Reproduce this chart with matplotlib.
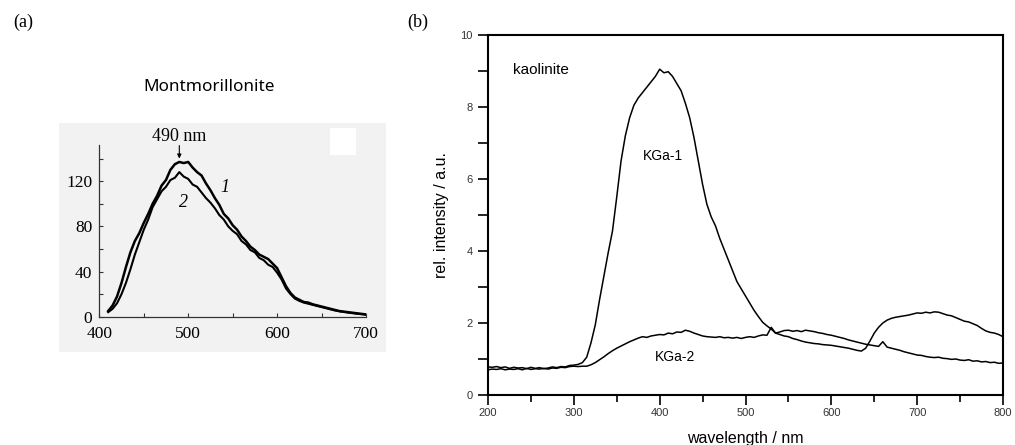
import numpy as np
import matplotlib
matplotlib.use("Agg")
import matplotlib.pyplot as plt
from matplotlib.patches import Rectangle

# ---------------- data: panel (a) Montmorillonite ----------------
wl_a = [410, 415, 420, 425, 430, 435, 440, 445, 450, 455, 460, 465, 470, 475,
        480, 485, 490, 495, 500, 505, 510, 515, 520, 525, 530, 535, 540, 545,
        550, 555, 560, 565, 570, 575, 580, 585, 590, 595, 600, 605, 610, 615,
        620, 625, 630, 635, 640, 645, 650, 655, 660, 665, 670, 675, 680, 685,
        690, 695, 700]
curve1 = [5, 10, 18, 30, 44, 57, 67, 74, 83, 91, 100, 107, 116, 121,
          130, 135, 137, 136, 137, 132, 128, 125, 118, 112, 105, 99, 91, 87,
          81, 77, 71, 67, 62, 59, 55, 53, 51, 47, 43, 35, 27, 21,
          17, 15, 13, 12.5, 11, 10, 9, 8, 7, 6, 5, 4.5, 4, 3.5,
          3, 2.5, 2]
curve2 = [4, 7, 12, 20, 30, 42, 55, 66, 77, 86, 97, 104, 111, 115,
          121, 123, 128, 124, 122, 117, 115, 110, 105, 101, 96, 90, 86, 80,
          76, 73, 67, 64, 59, 57, 52, 50, 46, 44, 39, 33, 25, 20,
          16, 14, 12.5, 11.5, 10.5, 9.5, 8.5, 7.5, 6.5, 5.5, 4.8, 4.2, 3.6, 3.1,
          2.6, 2.2, 1.8]
xticks_a = [400, 500, 600, 700]
yticks_a = [0, 40, 80, 120]

# ---------------- data: panel (b) kaolinite ----------------
wl_b = list(range(200, 801, 5))
kga1 = [0.78, 0.77, 0.79, 0.76, 0.78, 0.74, 0.77, 0.75, 0.76, 0.73,
        0.77, 0.74, 0.76, 0.73, 0.75, 0.78, 0.76, 0.79, 0.78, 0.82,
        0.83, 0.85, 0.90, 1.05, 1.45, 1.95, 2.65, 3.30, 3.95, 4.55,
        5.50, 6.50, 7.20, 7.70, 8.05, 8.25, 8.40, 8.55, 8.70, 8.85,
        9.05, 8.95, 8.98, 8.85, 8.65, 8.45, 8.10, 7.70, 7.15, 6.50,
        5.85, 5.30, 4.95, 4.70, 4.35, 4.05, 3.75, 3.45, 3.15, 2.95,
        2.75, 2.55, 2.35, 2.18, 2.02, 1.92, 1.83, 1.72, 1.68, 1.64,
        1.62, 1.57, 1.54, 1.50, 1.47, 1.45, 1.43, 1.42, 1.40, 1.39,
        1.38, 1.36, 1.34, 1.32, 1.30, 1.27, 1.24, 1.22, 1.30, 1.50,
        1.72, 1.88, 2.00, 2.08, 2.13, 2.16, 2.18, 2.20, 2.22, 2.25,
        2.28, 2.27, 2.30, 2.28, 2.31, 2.30, 2.26, 2.22, 2.20, 2.15,
        2.10, 2.05, 2.03, 1.98, 1.93, 1.85, 1.78, 1.74, 1.72, 1.68,
        1.62]
kga2 = [0.70, 0.72, 0.71, 0.73, 0.70, 0.72, 0.71, 0.73, 0.70, 0.74,
        0.71, 0.73, 0.72, 0.74, 0.72, 0.75, 0.74, 0.77, 0.76, 0.79,
        0.80, 0.79, 0.80, 0.80, 0.84, 0.90, 0.98, 1.06, 1.15, 1.23,
        1.30, 1.36, 1.42, 1.48, 1.53, 1.58, 1.62, 1.60, 1.64, 1.66,
        1.68, 1.67, 1.72, 1.70, 1.75, 1.74, 1.80, 1.77, 1.72, 1.68,
        1.64, 1.62, 1.61, 1.60, 1.62, 1.59, 1.60, 1.58, 1.60, 1.57,
        1.60, 1.62, 1.60, 1.64, 1.67, 1.66, 1.88, 1.72, 1.75, 1.79,
        1.80, 1.77, 1.79, 1.76, 1.80, 1.78, 1.76, 1.73, 1.71, 1.68,
        1.66, 1.63, 1.60, 1.57, 1.53, 1.50, 1.47, 1.44, 1.41, 1.39,
        1.37, 1.35, 1.48, 1.33, 1.30, 1.27, 1.24, 1.20, 1.17, 1.14,
        1.11, 1.10, 1.07, 1.05, 1.04, 1.05, 1.02, 1.01, 0.99, 1.00,
        0.97, 0.96, 0.98, 0.94, 0.95, 0.92, 0.93, 0.90, 0.91, 0.88,
        0.89]
xticks_b = [200, 300, 400, 500, 600, 700, 800]
yticks_b = [0, 2, 4, 6, 8, 10]

W, H = 1015, 445
fig = plt.figure(figsize=(W / 100, H / 100), dpi=100)

def fx(px):
    return px / W

def fy(py):
    return 1 - py / H

# gray scanned-image background of panel (a)
fig.patches.append(Rectangle((fx(59), fy(352)), (386 - 59) / W, (352 - 123) / H,
                             transform=fig.transFigure, facecolor="#f2f2f2",
                             edgecolor="none", zorder=-2))
fig.patches.append(Rectangle((fx(330), fy(155)), (356 - 330) / W, (155 - 128) / H,
                             transform=fig.transFigure, facecolor="white",
                             edgecolor="none", zorder=-1))

serif = ["Liberation Serif", "DejaVu Serif"]
sans = ["Liberation Sans", "DejaVu Sans"]

# ---------------- panel (a) ----------------
ax_a = fig.add_axes([fx(99.3), fy(316.7), (366 - 99.3) / W, (316.7 - 145) / H])
ax_a.set_facecolor("none")
ax_a.plot(wl_a, curve1, color="black", lw=1.8, zorder=3)
ax_a.plot(wl_a, curve2, color="black", lw=1.5, zorder=3)
ax_a.set_xlim(400, 700)
ax_a.set_ylim(0, 152)
for s in ["top", "right"]:
    ax_a.spines[s].set_visible(False)
for s in ["left", "bottom"]:
    ax_a.spines[s].set_linewidth(0.9)
    ax_a.spines[s].set_color("#333333")
ax_a.set_xticks(xticks_a)
ax_a.set_yticks(yticks_a)
ax_a.set_xticks([450, 550, 650], minor=True)
ax_a.set_yticks([20, 60, 100, 140], minor=True)
ax_a.tick_params(which="both", direction="in", length=3, width=0.8, color="#333333")
ax_a.tick_params(axis="x", pad=6.5)
ax_a.tick_params(axis="y", pad=5)
for lab in ax_a.get_xticklabels() + ax_a.get_yticklabels():
    lab.set_fontfamily(serif)
    lab.set_fontsize(12.5)
ax_a.annotate("", xy=(490, 140), xytext=(490, 151.5),
              arrowprops=dict(arrowstyle="-|>", lw=0.8, color="black",
                              mutation_scale=6, shrinkA=0, shrinkB=0),
              annotation_clip=False)
ax_a.text(490, 159.3, "490 nm", ha="center", va="center", fontsize=13,
          family=serif, clip_on=False)
ax_a.text(541, 114, "1", ha="center", va="center", fontsize=13,
          family=serif, style="italic")
ax_a.text(495, 101, "2", ha="center", va="center", fontsize=13,
          family=serif, style="italic")

fig.text(fx(209), fy(87), "Montmorillonite", ha="center", va="center",
         fontsize=12.3, family=["Noto Sans", "DejaVu Sans"])
fig.text(fx(23), fy(22), "(a)", ha="center", va="center", fontsize=13, family=serif)
fig.text(fx(418), fy(22), "(b)", ha="center", va="center", fontsize=13, family=serif)

# ---------------- panel (b) ----------------
ax_b = fig.add_axes([fx(488), fy(395), (1003 - 488) / W, (395 - 35) / H])
ax_b.plot(wl_b, kga1, color="black", lw=1.1)
ax_b.plot(wl_b, kga2, color="black", lw=1.1)
ax_b.set_xlim(200, 800)
ax_b.set_ylim(0, 10)
for s in ax_b.spines.values():
    s.set_linewidth(1.5)
ax_b.set_xticks(xticks_b)
ax_b.set_yticks(yticks_b)
ax_b.set_xticks(list(range(250, 800, 100)), minor=True)
ax_b.set_yticks([1, 3, 5, 7, 9], minor=True)
ax_b.tick_params(which="major", direction="out", length=7, width=1.2,
                 labelsize=8, labelcolor="#333333")
ax_b.tick_params(axis="x", which="minor", direction="out", length=5, width=1.2)
ax_b.tick_params(axis="y", which="minor", direction="out", length=7, width=1.2)
ax_b.tick_params(axis="x", pad=2)
ax_b.tick_params(axis="y", pad=4)
for lab in ax_b.get_xticklabels() + ax_b.get_yticklabels():
    lab.set_fontfamily(sans)
ax_b.set_xlabel("wavelength / nm", fontsize=11.5, family=sans, labelpad=10)
ax_b.set_ylabel("rel. intensity / a.u.", fontsize=11.5, family=sans, labelpad=8)
ax_b.text(229, 9.03, "kaolinite", ha="left", va="center", fontsize=11, family=sans)
ax_b.text(404, 6.64, "KGa-1", ha="center", va="center", fontsize=10, family=sans)
ax_b.text(418, 1.06, "KGa-2", ha="center", va="center", fontsize=10, family=sans)

fig.savefig("out.png", dpi=100)
